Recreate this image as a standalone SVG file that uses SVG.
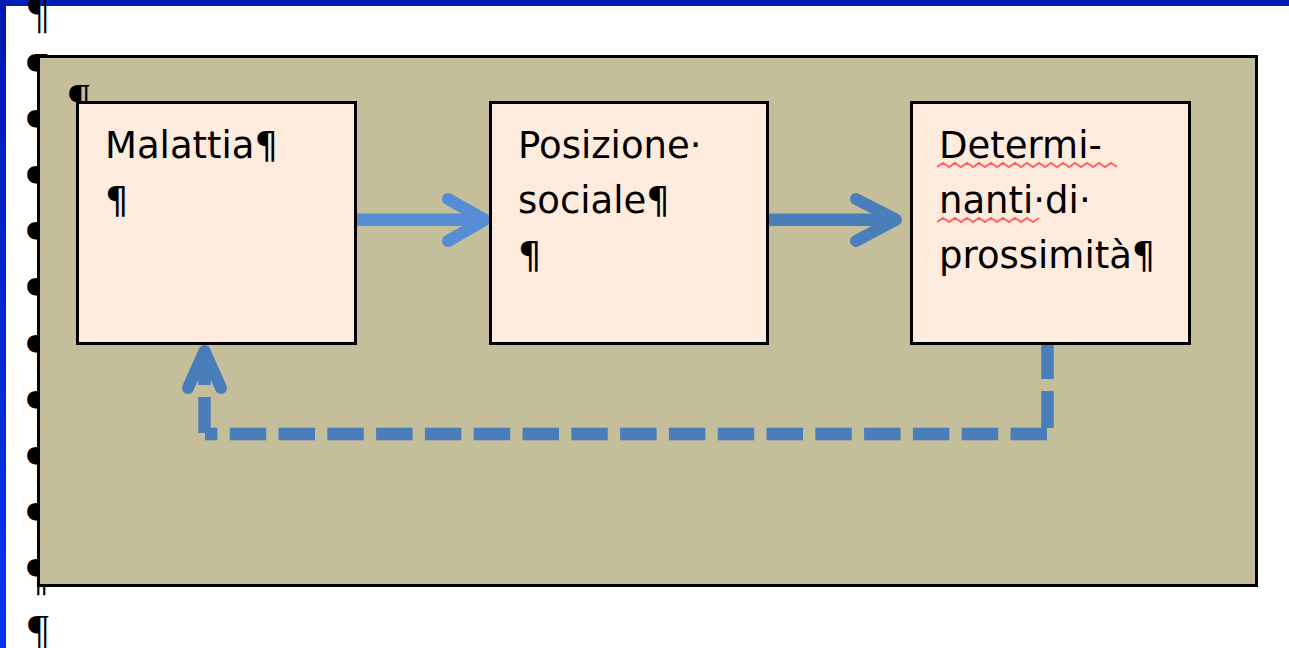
<svg xmlns="http://www.w3.org/2000/svg" width="1289" height="648" viewBox="0 0 1289 648">
<defs>
<linearGradient id="lb" x1="0" y1="0" x2="0" y2="1">
<stop offset="0" stop-color="#0018B4"/>
<stop offset="1" stop-color="#0036F0"/>
</linearGradient>
<style>
.box{fill:#FDEBDE;stroke:#000;stroke-width:3}
.t{font-family:"DejaVu Sans",sans-serif;font-size:37px;fill:#000}
.pm{font-family:"Liberation Serif",serif;font-size:46px;fill:#000}
.sol{fill:none;stroke-width:12.5}
.head{fill:none;stroke-width:12;stroke-linecap:round;stroke-linejoin:round}
.dash{fill:none;stroke:#4A7EBB;stroke-width:12.5}
.sq{fill:none;stroke:#FF4A4A;stroke-width:2;opacity:0.85}
</style>
</defs>
<rect x="0" y="0" width="1289" height="648" fill="#fff"/>
<rect x="0" y="0" width="1289" height="6" fill="#001CB6"/>
<rect x="0" y="0" width="6" height="648" fill="url(#lb)"/>
<g id="marks">
<text class="pm" x="28" y="28">¶</text>
<text class="pm" x="27" y="85">¶</text>
<text class="pm" x="27" y="141">¶</text>
<text class="pm" x="27" y="197">¶</text>
<text class="pm" x="27" y="253">¶</text>
<text class="pm" x="27" y="309">¶</text>
<text class="pm" x="27" y="366">¶</text>
<text class="pm" x="27" y="422">¶</text>
<text class="pm" x="27" y="478">¶</text>
<text class="pm" x="27" y="534">¶</text>
<text class="pm" x="27" y="590">¶</text>
<text class="pm" x="28" y="647">¶</text>
</g>
<g id="frame">
<rect x="38.5" y="56.5" width="1218" height="529" fill="#C4BE9A" stroke="#000" stroke-width="3"/>
<text class="pm" x="69" y="116">¶</text>
</g>
<g id="connectors">
<line class="sol" x1="357" y1="219.7" x2="484" y2="219.7" stroke="#558ED5"/>
<polyline class="head" points="448,199 485,219.7 448,241" stroke="#558ED5"/>
<line class="sol" x1="769" y1="219.7" x2="896" y2="219.7" stroke="#4A7EBB"/>
<polyline class="head" points="856,199 896,219.7 856,241" stroke="#4A7EBB"/>
<line class="dash" x1="1047.5" y1="345" x2="1047.5" y2="428" stroke-dasharray="34 12 37 12"/>
<line class="dash" x1="1047" y1="434" x2="205" y2="434" stroke-dasharray="36.5 12.3"/>
<line class="dash" x1="204.5" y1="433" x2="204.5" y2="350" stroke-dasharray="36 12"/>
<polyline class="head" points="188,388 204.5,351 221,388" stroke="#4A7EBB" stroke-width="11"/>
</g>
<g id="malattia">
<rect class="box" x="77.5" y="102.5" width="278" height="241"/>
<text class="t" x="105" y="158">Malattia¶</text>
<text class="t" x="105" y="213">¶</text>
</g>
<g id="posizione">
<rect class="box" x="490.5" y="102.5" width="277" height="241"/>
<text class="t" x="518" y="158">Posizione·</text>
<text class="t" x="518" y="213">sociale¶</text>
<text class="t" x="518" y="268">¶</text>
</g>
<g id="determinanti">
<rect class="box" x="911.5" y="102.5" width="278" height="241"/>
<text class="t" x="939" y="158">Determi-</text>
<text class="t" x="939" y="213">nanti·di·</text>
<text class="t" x="939" y="268">prossimità¶</text>
<path class="sq" d="M937,167 l6,-4 l6,4 l6,-4 l6,4 l6,-4 l6,4 l6,-4 l6,4 l6,-4 l6,4 l6,-4 l6,4 l6,-4 l6,4 l6,-4 l6,4 l6,-4 l6,4 l6,-4 l6,4 l6,-4 l6,4 l6,-4 l6,4 l6,-4 l6,4 l6,-4 l6,4 l6,-4 l6,4"/>
<path class="sq" d="M937,222 l6,-4 l6,4 l6,-4 l6,4 l6,-4 l6,4 l6,-4 l6,4 l6,-4 l6,4 l6,-4 l6,4 l6,-4 l6,4 l6,-4 l6,4 l6,-4"/>
</g>
</svg>
